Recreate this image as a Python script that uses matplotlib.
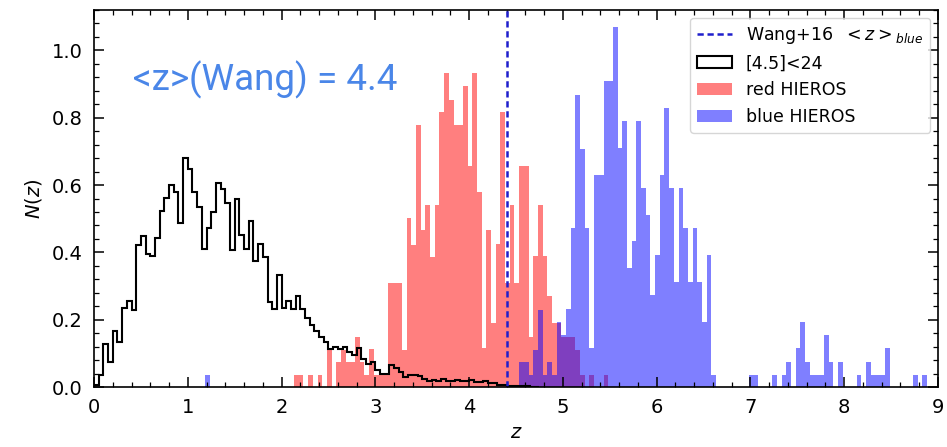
import numpy as np
import matplotlib
matplotlib.use('Agg')
import matplotlib.pyplot as plt
from matplotlib.ticker import MultipleLocator

# bin width shared by all histograms
dz = 0.05

# [4.5]<24 sample, bins starting at z = 0
black_start = 0.0
black_n = [0.007, 0.035, 0.127, 0.075, 0.166, 0.134, 0.235, 0.256, 0.229, 0.423,
           0.450, 0.396, 0.390, 0.443, 0.522, 0.562, 0.599, 0.579, 0.486, 0.680,
           0.647, 0.579, 0.535, 0.411, 0.471, 0.519, 0.605, 0.587, 0.547, 0.408,
           0.559, 0.453, 0.411, 0.493, 0.373, 0.425, 0.386, 0.252, 0.232, 0.333,
           0.235, 0.257, 0.232, 0.271, 0.232, 0.205, 0.185, 0.165, 0.150, 0.135,
           0.112, 0.118, 0.112, 0.120, 0.105, 0.095, 0.115, 0.082, 0.068, 0.075,
           0.052, 0.040, 0.040, 0.065, 0.055, 0.045, 0.031, 0.035, 0.035, 0.033,
           0.023, 0.019, 0.021, 0.017, 0.025, 0.019, 0.018, 0.021, 0.018, 0.019,
           0.021, 0.016, 0.015, 0.017, 0.011, 0.011, 0.007, 0.006, 0.004, 0.003,
           0.003, 0.002, 0.002, 0.001, 0.001]

# red HIEROS, first bin edge at z = 2.1333
red_start = 2.1333
red_n = [0.036, 0.036, 0.0, 0.036, 0.0, 0.036, 0.0, 0.110, 0.0, 0.075,
         0.110, 0.075, 0.075, 0.150, 0.075, 0.036, 0.113, 0.036, 0.036, 0.036,
         0.309, 0.309, 0.309, 0.110, 0.502, 0.423, 0.777, 0.465, 0.542, 0.386,
         0.542, 0.816, 0.934, 0.854, 0.777, 0.777, 0.894, 0.658, 0.934, 0.578,
         0.115, 0.465, 0.189, 0.426, 0.816, 0.309, 0.542, 0.309, 0.658, 0.658,
         0.150, 0.388, 0.542, 0.388, 0.269, 0.190, 0.190, 0.150, 0.150, 0.150,
         0.110, 0.036, 0.0, 0.036, 0.0, 0.0, 0.036]

# blue HIEROS: lone low-z object, main bump, high-z tail
blue_low_start = 1.1833
blue_low_n = [0.036]
blue_main_start = 4.5333
blue_main_n = [0.075, 0.075, 0.036, 0.110, 0.230, 0.036, 0.075, 0.036, 0.194, 0.155,
               0.231, 0.472, 0.869, 0.707, 0.472, 0.115, 0.631, 0.631, 0.909, 0.909,
               1.070, 0.710, 0.790, 0.353, 0.433, 0.790, 0.591, 0.512, 0.274, 0.393,
               0.631, 0.829, 0.591, 0.313, 0.591, 0.472, 0.313, 0.472, 0.313, 0.194,
               0.393, 0.036]
blue_tail_start = 6.9833
blue_tail_n = [0.036, 0.036, 0.0, 0.0, 0.0, 0.036, 0.0, 0.036, 0.075, 0.0,
               0.115, 0.194, 0.075, 0.036, 0.036, 0.036, 0.155, 0.075, 0.0, 0.075,
               0.0, 0.0, 0.0, 0.036, 0.0, 0.075, 0.036, 0.036, 0.036, 0.115,
               0.0, 0.0, 0.0, 0.0, 0.0, 0.036, 0.0, 0.036]

z_wang = 4.4


def to_bins(start, vals):
    vals = np.asarray(vals, dtype=float)
    edges = start + dz * np.arange(len(vals) + 1)
    return edges, vals


def merge(parts):
    # put several segments on one regular grid (same offset)
    start = min(p[0] for p in parts)
    stop = max(p[0] + dz * len(p[1]) for p in parts)
    nb = int(round((stop - start) / dz))
    vals = np.zeros(nb)
    for s, v in parts:
        i0 = int(round((s - start) / dz))
        vals[i0:i0 + len(v)] = v
    return to_bins(start, vals)


fig = plt.figure(figsize=(9.47, 4.47), dpi=100)
ax = fig.add_axes([0.0993, 0.1342, 0.8912, 0.8434])

be, bv = to_bins(black_start, black_n)
h_black = ax.hist(be[:-1] + dz / 2, bins=be, weights=bv, histtype='step',
                  color='black', lw=1.5, label='[4.5]<24')[2][0]

re, rv = to_bins(red_start, red_n)
h_red = ax.hist(re[:-1] + dz / 2, bins=re, weights=rv, histtype='stepfilled',
                color='red', alpha=0.5, lw=0, label='red HIEROS')[2][0]

ue, uv = merge([(blue_low_start, blue_low_n), (blue_main_start, blue_main_n),
                (blue_tail_start, blue_tail_n)])
h_blue = ax.hist(ue[:-1] + dz / 2, bins=ue, weights=uv, histtype='stepfilled',
                 color='blue', alpha=0.5, lw=0, label='blue HIEROS')[2][0]

h_wang = ax.axvline(z_wang, color='#1f1fcc', ls=(0, (2.5, 1.5)), lw=1.8,
                    label=r'Wang+16  $<z>_{blue}$')

ax.text(0.046, 0.815, '<z>(Wang) = 4.4', transform=ax.transAxes, color='#4a86e8',
        fontsize=26.5, family='Roboto', va='center', ha='left')

ax.set_xlim(0, 9)
ax.set_ylim(0, 1.12)
ax.xaxis.set_major_locator(MultipleLocator(1))
ax.xaxis.set_minor_locator(MultipleLocator(0.2))
ax.yaxis.set_major_locator(MultipleLocator(0.2))
ax.yaxis.set_minor_locator(MultipleLocator(0.04))
ax.tick_params(which='both', direction='in', top=True, right=True, labelsize=14)
ax.tick_params(which='major', length=7, width=1.1, pad=8)
ax.tick_params(which='minor', length=3.5, width=0.9)
for sp in ax.spines.values():
    sp.set_linewidth(1.2)

ax.set_xlabel(r'$z$', fontsize=14, labelpad=4)
ax.set_ylabel(r'$N(z)$', fontsize=14, labelpad=6)

ax.legend(handles=[h_wang, h_black, h_red, h_blue], loc='upper right', fontsize=12.5,
          borderaxespad=0.45)

fig.savefig('out.png', dpi=100)
